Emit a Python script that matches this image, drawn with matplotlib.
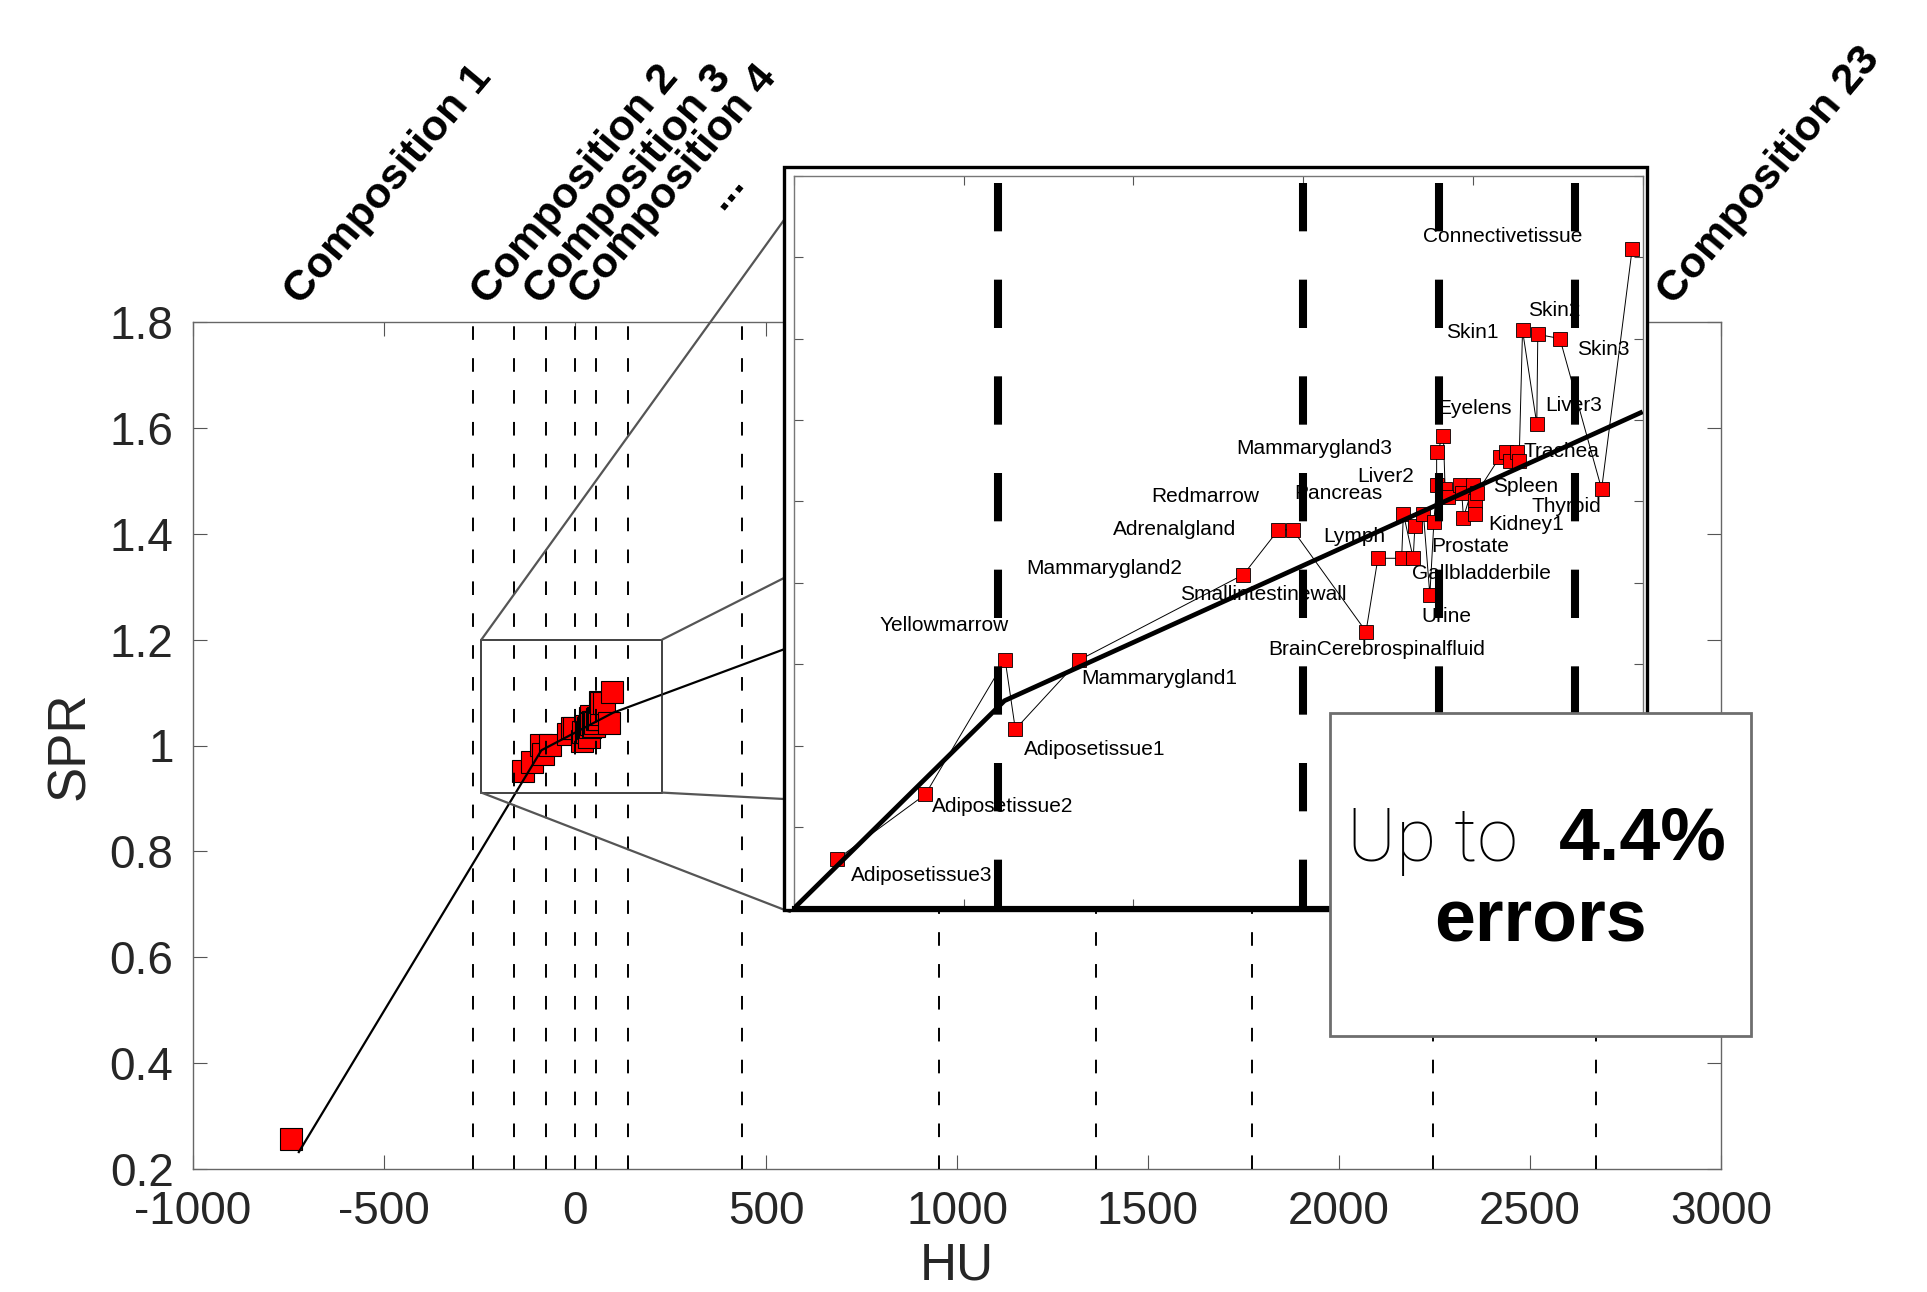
"""SPR vs HU calibration curve with zoomed tissue inset."""
import matplotlib
matplotlib.use("Agg")
import matplotlib.pyplot as plt
import numpy as np
from matplotlib.patches import Rectangle, ConnectionPatch

W, H = 1927, 1292

# ---- data -------------------------------------------------------------
# tissue points (HU, SPR)
tissue_hu = [-137.4, -111.3, -87.8, -84.8, -66.0, -17.6, -7.3, -3.1, 18.5, 22.0,
             29.0, 32.4, 37.3, 29.5, 32.9, 35.4, 38.5, 39.3, 41.8, 42.7,
             46.2, 46.7, 50.1, 51.1, 50.6, 50.6, 47.2, 39.3, 41.3, 58.0,
             59.7, 62.9, 60.9, 63.6, 68.8, 64.6, 69.1, 75.6, 87.9, 96.9]
tissue_spr = [0.952, 0.968, 1.001, 0.984, 1.001, 1.022, 1.033, 1.033, 1.008, 1.026,
              1.026, 1.026, 1.017, 1.037, 1.034, 1.037, 1.035, 1.044, 1.043, 1.041,
              1.044, 1.042, 1.044, 1.042, 1.040, 1.037, 1.036, 1.052, 1.056, 1.051,
              1.052, 1.052, 1.050, 1.050, 1.059, 1.082, 1.081, 1.080, 1.043, 1.102]

lung_hu, lung_spr = [-743], [0.256]

# piecewise linear calibration (main view and inset view)
fit_hu = [-723, -88, 100, 548, 1500]
fit_spr = [0.232, 0.991, 1.062, 1.182, 1.437]
inset_fit_hu = [-150, -88, 100]
inset_fit_spr = [0.94, 0.991, 1.062]

# composition boundaries
bound_hu = [-266, -160, -77, 0, 56, 140, 438, 953, 1363, 1771, 2247, 2673]
inset_bound_hu = [-90, 0, 40, 80]

comp_labels = ["Composition 1", "Composition 2", "Composition 3",
               "Composition 4", "...", "Composition 23"]
comp_hu = [-716, -228, -90, 30, 385, 2878]

label_names = ["Connectivetissue", "Skin2", "Skin1", "Skin3", "Eyelens", "Liver3",
               "Mammarygland3", "Trachea", "Liver2", "Pancreas", "Spleen", "Thyroid",
               "Kidney1", "Redmarrow", "Adrenalgland", "Lymph", "Prostate",
               "Gallbladderbile", "Urine", "Smallintestinewall",
               "BrainCerebrospinalfluid", "Mammarygland2", "Yellowmarrow",
               "Mammarygland1", "Adiposetissue1", "Adiposetissue2", "Adiposetissue3"]

xticks = [-1000, -500, 0, 500, 1000, 1500, 2000, 2500, 3000]
xtick_labels = ["-1000", "-500", "0", "500", "1000", "1500", "2000", "2500", "3000"]
yticks = [0.2, 0.4, 0.6, 0.8, 1.0, 1.2, 1.4, 1.6, 1.8]
ytick_labels = ["0.2", "0.4", "0.6", "0.8", "1", "1.2", "1.4", "1.6", "1.8"]

zoom_box = (-245, 0.911, 228, 1.2)   # hu0, spr0, hu1, spr1
inset_xlim, inset_ylim = (-150, 100), (0.94, 1.12)

# label anchor positions inside the inset (left / centre)
label_xy = [(35.2, 1.105), (66.3, 1.087), (42.0, 1.0814), (80.6, 1.0774),
            (39.5, 1.0628), (71.2, 1.0635), (-19.8, 1.053), (64.8, 1.0522),
            (15.9, 1.0462), (-2.6, 1.042), (55.8, 1.0436), (67.3, 1.0387),
            (54.5, 1.0342), (-44.8, 1.0411), (-56.1, 1.033), (5.9, 1.0313),
            (37.8, 1.0288), (32.0, 1.0223), (34.9, 1.0118), (-36.3, 1.017),
            (-10.3, 1.0035), (-81.7, 1.0235), (-124.7, 1.0096), (-65.5, 0.9965),
            (-82.2, 0.979), (-109.4, 0.965), (-133.2, 0.948)]


def px(x, y):
    return x / W, 1 - y / H


plt.rcParams["font.family"] = ["Liberation Sans", "DejaVu Sans"]

order = np.argsort(tissue_hu, kind="stable")
hu_s = np.array(tissue_hu)[order]
spr_s = np.array(tissue_spr)[order]

fig = plt.figure(figsize=(W / 100, H / 100), dpi=100)

# ---- main axes --------------------------------------------------------
l, b = px(193, 1169)
ax = fig.add_axes([l, b, 1528 / W, 847 / H])
ax.set_xlim(-1000, 3000)
ax.set_ylim(0.2, 1.8)
for v in bound_hu:
    ax.plot([v, v], [0.2, 1.8], color="black", lw=1.4, dashes=(7, 9.4), zorder=4)
ax.plot(hu_s, spr_s, "-s", color="black", lw=0.8, ms=16, mfc="#ff0000",
        mec="black", mew=0.8, zorder=2)
ax.plot(lung_hu, lung_spr, "s", ms=16, mfc="#ff0000", mec="black", mew=0.8, zorder=2)
ax.plot(fit_hu, fit_spr, color="black", lw=1.6, zorder=3)
x0, y0, x1, y1 = zoom_box
ax.add_patch(Rectangle((x0, y0), x1 - x0, y1 - y0, fill=False, ec="#333333",
                       lw=1.3, zorder=5))
ax.set_xticks(xticks); ax.set_xticklabels(xtick_labels)
ax.set_yticks(yticks); ax.set_yticklabels(ytick_labels)
ax.tick_params(direction="in", length=10, width=0.8, color="#555555",
               top=True, right=True, labelsize=33, labelcolor="#262626")
ax.tick_params(axis="x", pad=15)
ax.tick_params(axis="y", pad=14)
for s in ax.spines.values():
    s.set_color("#666666"); s.set_linewidth(1.0)

for lab, hv in zip(comp_labels, comp_hu):
    yv = 2.01 if lab == "..." else 1.829
    ax.text(hv, yv, lab, rotation=50, rotation_mode="anchor", ha="left",
            va="baseline", fontsize=31, fontweight="bold", clip_on=False)

fig.text(*px(70, 746), "SPR", rotation=90, ha="center", va="center",
         fontsize=38, color="#262626")
fig.text(*px(957, 1266), "HU", ha="center", va="center", fontsize=37,
         color="#262626")

# ---- zoom connectors ----------------------------------------------------
corners = [(x0, y1), (x1, y1), (x1, y0), (x0, y0)]
targets = [(784, 220), (784, 578), (784, 799), (790, 912)]
for (cx, cy), (tx, ty) in zip(corners, targets):
    cp = ConnectionPatch(xyA=(cx, cy), coordsA=ax.transData,
                         xyB=px(tx, ty), coordsB=fig.transFigure,
                         color="#555555", lw=1.6)
    cp.set_zorder(1.5)
    fig.add_artist(cp)

# ---- inset ------------------------------------------------------------
frame = Rectangle(px(784, 910), 862.7 / W, (910 - 166.7) / H,
                  transform=fig.transFigure, fc="white", ec="none", zorder=1.9)
fig.add_artist(frame)

il, ib = px(794, 908.3)
axi = fig.add_axes([il, ib, 848.7 / W, 732.6 / H], zorder=2)
axi.set_xlim(*inset_xlim)
axi.set_ylim(*inset_ylim)
axi.set_xticks(np.arange(-150, 101, 50))
axi.set_yticks(np.arange(0.94, 1.121, 0.02))
axi.tick_params(direction="in", length=6.5, width=0.8, color="#555555",
                top=True, right=True, labelbottom=False, labelleft=False)
for s in axi.spines.values():
    s.set_color("#777777"); s.set_linewidth(1.0)
axi.spines["bottom"].set_color("black"); axi.spines["bottom"].set_linewidth(3)

for name, (lx, ly) in zip(label_names, label_xy):
    axi.text(lx, ly, name, ha="left", va="center", fontsize=15, zorder=1)
axi.plot(hu_s, spr_s, "-s", color="black", lw=0.7, ms=10, mfc="#ff0000",
         mec="black", mew=0.6, zorder=2)
axi.plot(inset_fit_hu, inset_fit_spr, color="black", lw=3.4, zorder=3,
         solid_capstyle="butt")
for v in inset_bound_hu:
    axi.plot([v, v], [inset_ylim[0], inset_ylim[1]], color="black", lw=5.8,
             dashes=(6, 6), zorder=4)

edge = Rectangle(px(784, 910), 862.7 / W, (910 - 166.7) / H,
                 transform=fig.transFigure, fill=False, ec="black", lw=2.4, zorder=3)
fig.add_artist(edge)

# ---- annotation box ---------------------------------------------------
box = Rectangle(px(1330, 1036), (1751 - 1330) / W, (1036 - 713) / H,
                transform=fig.transFigure, fc="white", ec="#6e6e6e", lw=2,
                zorder=5)
fig.add_artist(box)
fig.text(*px(1347, 840), "Up to", ha="left", va="center", fontsize=53,
         family=["Roboto", "Liberation Sans"], fontweight="light", zorder=6)
fig.text(*px(1727, 840), "4.4%", ha="right", va="center", fontsize=53,
         fontweight="bold", zorder=6)
fig.text(*px(1540, 922), "errors", ha="center", va="center", fontsize=53,
         fontweight="bold", zorder=6)

fig.savefig("out.png", dpi=100)
